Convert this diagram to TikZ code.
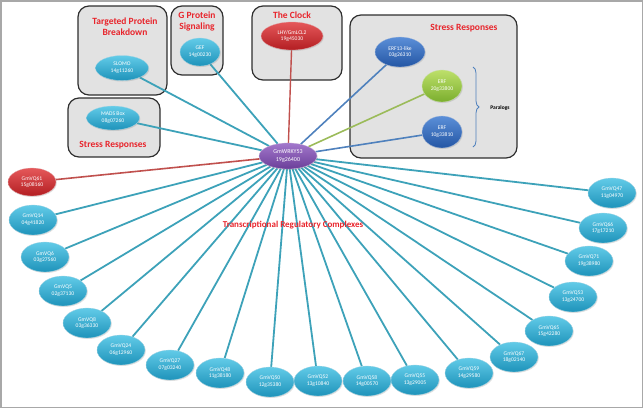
\documentclass[tikz,border=0pt]{standalone}
\usepackage{fontspec}
\setmainfont{Carlito}
\usetikzlibrary{shapes.geometric,decorations.pathreplacing,backgrounds,shadows}
\definecolor{cyanT}{HTML}{62CBE8}
\definecolor{cyanB}{HTML}{1E93BA}
\definecolor{tealL}{HTML}{3DA2B9}
\definecolor{redT}{HTML}{E5585A}
\definecolor{redB}{HTML}{B31E22}
\definecolor{redL}{HTML}{C0504D}
\definecolor{purT}{HTML}{A277CC}
\definecolor{purB}{HTML}{6B3F99}
\definecolor{bluT}{HTML}{5B8FD8}
\definecolor{bluB}{HTML}{2456A4}
\definecolor{bluL}{HTML}{4F81BD}
\definecolor{grnT}{HTML}{BDE06A}
\definecolor{grnB}{HTML}{7BAE2E}
\definecolor{grnL}{HTML}{9BBB59}
\definecolor{boxF}{HTML}{E2E2E2}
\definecolor{boxD}{HTML}{2E2E2E}
\definecolor{titleR}{HTML}{E8242B}
\definecolor{frameG}{HTML}{A8A8A8}
\tikzset{
  gene/.style={ellipse, inner sep=0pt, align=center, text=white,
    font=\fontsize{5.6}{6.8}\selectfont, draw=white!60!cyanB, line width=0.3pt,
    drop shadow={opacity=0.25, shadow xshift=0.8pt, shadow yshift=-1pt}},
  vq/.style={gene, minimum width=48pt, minimum height=30pt, top color=cyanT, bottom color=cyanB},
  vqred/.style={gene, minimum width=48pt, minimum height=28pt, top color=redT, bottom color=redB, draw=white!60!redB},
  bluenode/.style={gene, top color=bluT, bottom color=bluB, draw=white!60!bluB},
  greennode/.style={gene, top color=grnT, bottom color=grnB, draw=white!60!grnB},
  rednode/.style={gene, top color=redT, bottom color=redB, draw=white!60!redB},
  purplenode/.style={gene, top color=purT, bottom color=purB, draw=white!60!purB},
  groupbox/.style={draw=boxD, fill=boxF, line width=1.2pt, rounded corners=11pt},
  grouptitle/.style={text=titleR, font=\fontsize{9.5}{11}\selectfont\bfseries, align=center, inner sep=0pt},
  tline/.style={tealL, line width=1.8pt},
}
\begin{document}
\begin{tikzpicture}[x=1pt,y=-1pt]
\useasboundingbox (0,0) rectangle (643,408);
\draw[frameG, line width=1.5pt] (0.75,0.75) rectangle (642.25,407.25);

% central node
\node[purplenode, minimum width=58pt, minimum height=26pt, font=\fontsize{6}{7.2}\selectfont] (c) at (288,156) {GmWRKY53\\19g26400};

% grouped nodes
\node[vq, minimum width=53pt, minimum height=25pt] (slomo) at (122,68) {SLOMO\\14g11260};
\node[vq, minimum width=40pt, minimum height=28pt] (gef) at (200,52) {GEF\\14g00230};
\node[vq, minimum width=53pt, minimum height=24pt] (mads) at (113,118) {MADS Box\\08g07260};
\node[rednode, minimum width=62pt, minimum height=28pt] (lhy) at (292,36) {LHY/GmLCL2\\19g45030};
\node[bluenode, minimum width=50pt, minimum height=30pt] (erf13) at (400,52) {ERF13-like\\03g26310};
\node[greennode, minimum width=40pt, minimum height=32pt] (erf20) at (442,86) {ERF\\20g33800};
\node[bluenode, minimum width=40pt, minimum height=32pt] (erf10) at (442,132) {ERF\\10g33810};

% VQ nodes
\node[vqred] (vq61) at (32,182) {GmVQ61\\15g08160};
\node[vq] (vq14) at (33,220) {GmVQ14\\04g41820};
\node[vq] (vq6) at (45,257) {GmVQ6\\03g27560};
\node[vq] (vq5) at (63,291) {GmVQ5\\02g37130};
\node[vq] (vq8) at (87,323) {GmVQ8\\03g36330};
\node[vq] (vq24) at (121,350) {GmVQ24\\06g12960};
\node[vq] (vq27) at (170,365) {GmVQ27\\07g03240};
\node[vq] (vq48) at (220,373) {GmVQ48\\11g38180};
\node[vq] (vq50) at (270,382) {GmVQ50\\12g35380};
\node[vq] (vq52) at (318,381) {GmVQ52\\13g10840};
\node[vq] (vq58) at (367,381) {GmVQ58\\14g00570};
\node[vq] (vq55) at (415,380) {GmVQ55\\13g29005};
\node[vq] (vq59) at (469,373) {GmVQ59\\14g29580};
\node[vq] (vq67) at (514,357) {GmVQ67\\18g02140};
\node[vq] (vq65) at (549,331) {GmVQ65\\15g42280};
\node[vq] (vq53) at (573,297) {GmVQ53\\13g24700};
\node[vq] (vq71) at (589,261) {GmVQ71\\19g38980};
\node[vq] (vq66) at (603,228) {GmVQ66\\17g17210};
\node[vq] (vq47) at (612,193) {GmVQ47\\11g04970};

% titles
\node[grouptitle] (t1) at (125,26.5) {Targeted Protein\\Breakdown};
\node[grouptitle] (t2) at (197,21) {G Protein\\Signaling};
\node[grouptitle] (t3) at (113,145) {Stress Responses};
\node[grouptitle] (t4) at (292,15) {The Clock};
\node[grouptitle] (t5) at (464,28) {Stress Responses};
\node[grouptitle, font=\fontsize{9}{11}\selectfont\bfseries] (t6) at (293,225) {Transcriptional Regulatory Complexes};
\node[font=\fontsize{5.5}{6.5}\selectfont\bfseries, inner sep=0pt] (para) at (500,108) {Paralogs};
\coordinate (brA) at (473,67);
\coordinate (brB) at (473,147);

\begin{scope}[on background layer]
  \draw[groupbox] (78,6) rectangle (167,95);
  \draw[groupbox] (171,6) rectangle (223,75);
  \draw[groupbox] (68,98) rectangle (160,157);
  \draw[groupbox] (252,6) rectangle (342,80);
  \draw[groupbox] (350,15) rectangle (517,158);
  \draw[bluL, line width=0.8pt, decorate, decoration={brace, amplitude=6pt}] (brA) -- (brB);
  \foreach \n in {vq14,vq6,vq5,vq8,vq24,vq27,vq48,vq50,vq52,vq58,vq55,vq59,vq67,vq65,vq53,vq71,vq66,vq47,slomo,gef,mads}
    \draw[tline] (c) -- (\n);
  \draw[redL, line width=1.6pt] (c) -- (vq61);
  \draw[redL, line width=1.4pt] (c) -- (lhy);
  \draw[bluL, line width=1.6pt] (c) -- (erf13);
  \draw[bluL, line width=1.6pt] (c) -- (erf10);
  \draw[grnL, line width=1.6pt] (c) -- (erf20);
\end{scope}
\end{tikzpicture}
\end{document}
